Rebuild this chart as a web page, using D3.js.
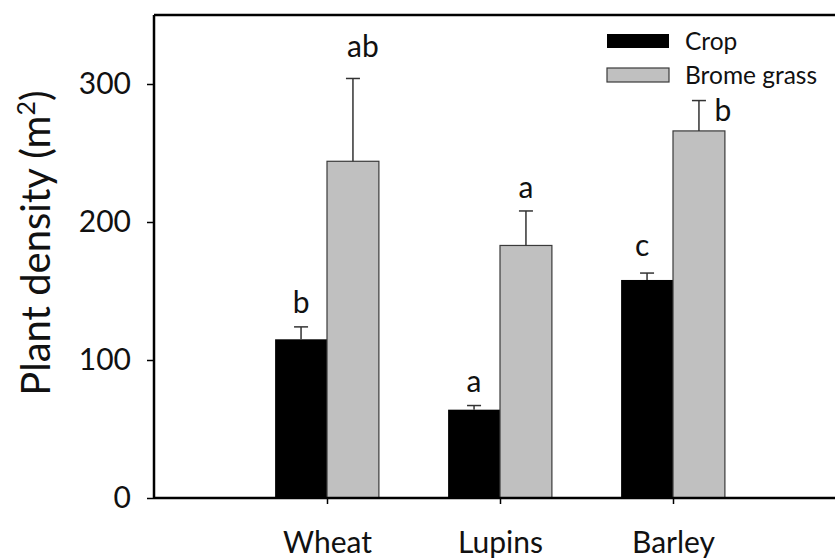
<!DOCTYPE html>
<html><head><meta charset="utf-8">
<script src="https://cdn.jsdelivr.net/npm/d3@7"></script>
<style>body{margin:0;background:#fff} text{font-family:Lato, "Open Sans", sans-serif; fill:#111}</style>
</head><body>
<svg id="c" width="835" height="558"></svg>
<script>
const categories = ["Wheat", "Lupins", "Barley"];
const seriesNames = ["Crop", "Brome grass"];
const cropValues = [115, 64, 158];
const cropErrors = [9, 3, 5];
const bromeValues = [244, 183, 266];
const bromeErrors = [60, 25, 22];
const cropLetters = ["b", "a", "c"];
const bromeLetters = ["ab", "a", "b"];
const yTicks = [0, 100, 200, 300];

(function () {
const svg = d3.select("#c");
const pLeft = 154, pRight = 846, pTop = 15, pBottom = 498;
const x = d3.scaleLinear().domain([0, 4]).range([pLeft, pRight]);
const y = d3.scaleLinear().domain([0, 350]).range([pBottom, pTop]);
const bw = x(1.3) - x(1);
const colors = ["#000000", "#c0c0c0"];

const series = [
  {name: seriesNames[0], values: cropValues, errors: cropErrors, letters: cropLetters, side: -1, color: colors[0]},
  {name: seriesNames[1], values: bromeValues, errors: bromeErrors, letters: bromeLetters, side: 0, color: colors[1]}
];
// label nudges (dx, dy relative to error-cap top) per series/category
const nudges = [
  [[0, -14], [0, -14], [-5, -17]],
  [[10, -21], [0, -13], [24, 20]]
];

series.forEach((s, si) => {
  const g = svg.append("g");
  g.selectAll("rect").data(s.values).join("rect")
    .attr("x", (d, i) => x(i + 1) + s.side * bw)
    .attr("y", d => y(d))
    .attr("width", bw)
    .attr("height", d => y(0) - y(d))
    .attr("fill", s.color)
    .attr("stroke", si === 0 ? "none" : "#3a3a3a")
    .attr("stroke-width", 1.2);
  s.values.forEach((v, i) => {
    const cx = x(i + 1) + s.side * bw + bw / 2;
    const t = v + s.errors[i];
    svg.append("line").attr("x1", cx).attr("x2", cx).attr("y1", y(v)).attr("y2", y(t))
      .attr("stroke", "#333").attr("stroke-width", 1.5);
    svg.append("line").attr("x1", cx - 7).attr("x2", cx + 7).attr("y1", y(t)).attr("y2", y(t))
      .attr("stroke", "#333").attr("stroke-width", 1.5);
    svg.append("text").attr("x", cx + nudges[si][i][0]).attr("y", y(t) + nudges[si][i][1])
      .attr("text-anchor", "middle").style("font-size", "30px").text(s.letters[i]);
  });
});

svg.append("line").attr("x1", pLeft).attr("x2", pRight).attr("y1", pTop).attr("y2", pTop)
  .attr("stroke", "#000").attr("stroke-width", 2.5);
svg.append("line").attr("x1", pRight).attr("x2", pRight).attr("y1", pTop).attr("y2", pBottom)
  .attr("stroke", "#000").attr("stroke-width", 2.5);

const yAxis = d3.axisLeft(y).tickValues(yTicks).tickSize(7).tickPadding(16);
const yg = svg.append("g").attr("transform", `translate(${pLeft},0)`).call(yAxis);
yg.select(".domain").attr("stroke-width", 2.5).attr("d", `M0,${pTop}V${pBottom}`);
yg.selectAll(".tick line").attr("stroke-width", 1.5);
yg.selectAll(".tick text").style("font-size", "30px").style("font-family", "Lato").attr("fill", "#111");

const xAxis = d3.axisBottom(x).tickValues([1, 2, 3]).tickFormat(d => categories[d - 1]).tickSize(6).tickPadding(28);
const xg = svg.append("g").attr("transform", `translate(0,${pBottom})`).call(xAxis);
xg.select(".domain").attr("stroke-width", 2.5).attr("d", `M${pLeft},0H${pRight}`);
xg.selectAll(".tick line").attr("stroke-width", 1.5);
xg.selectAll(".tick text").style("font-size", "30px").style("font-family", "Lato").attr("fill", "#111");

const yt = svg.append("text").attr("transform", "translate(50,243) rotate(-90)")
  .attr("text-anchor", "middle").style("font-size", "40px");
yt.append("tspan").text("Plant density (m");
yt.append("tspan").attr("dy", -15).style("font-size", "25px").text("2");
yt.append("tspan").attr("dy", 15).text(")");

const leg = svg.append("g");
series.forEach((s, si) => {
  const ly = 34 + si * 34;
  leg.append("rect").attr("x", 607).attr("y", ly).attr("width", 62).attr("height", 14)
    .attr("fill", s.color).attr("stroke", si === 0 ? "none" : "#3a3a3a").attr("stroke-width", 1.2);
  leg.append("text").attr("x", 685).attr("y", ly + 16).style("font-size", "24.5px").text(s.name);
});
})();
</script>
</body></html>
